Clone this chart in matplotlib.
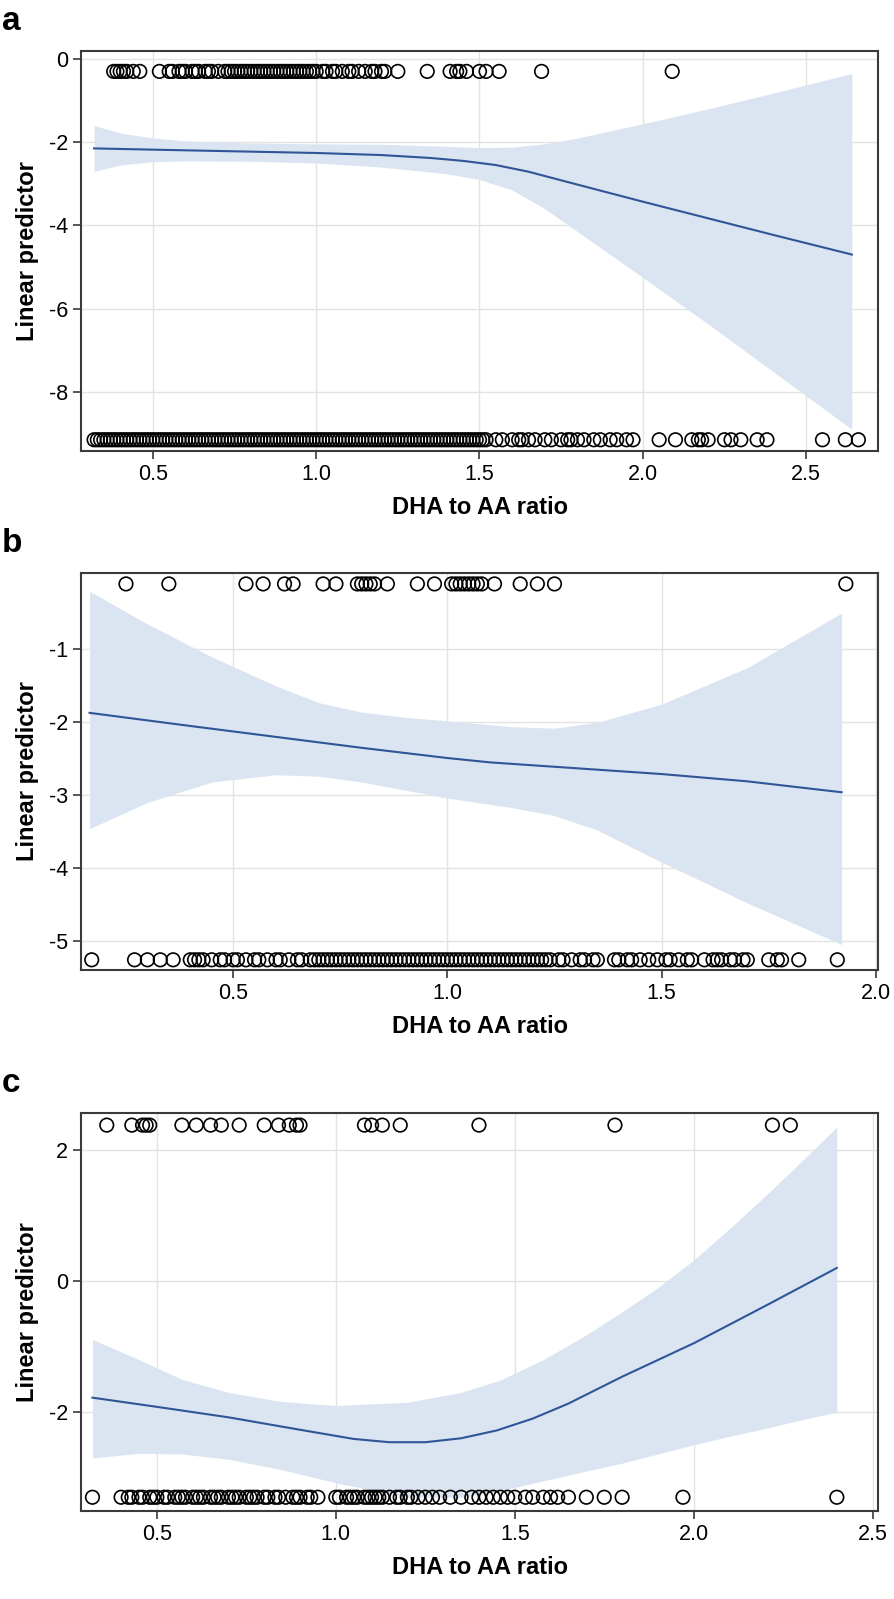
import numpy as np
import matplotlib
matplotlib.use("Agg")
import matplotlib.pyplot as plt

plt.rcParams['font.family'] = ['Liberation Sans', 'DejaVu Sans']

# ---------------- Panel a data ----------------
a_curve_x = [0.32, 0.5, 0.75, 1.0, 1.2, 1.35, 1.45, 1.55, 1.65, 1.8, 2.0, 2.2, 2.4, 2.64]
a_curve_y = [-2.15, -2.18, -2.22, -2.26, -2.31, -2.38, -2.45, -2.55, -2.71, -3.02,
             -3.43, -3.83, -4.23, -4.7]
a_band_x = [0.32, 0.4, 0.5, 0.6, 0.8, 1.0, 1.2, 1.4, 1.5, 1.6, 1.7, 1.8, 2.0, 2.2,
            2.4, 2.64]
a_upper = [-1.6, -1.78, -1.9, -1.97, -2.02, -2.04, -2.05, -2.1, -2.13, -2.12,
           -2.04, -1.9, -1.56, -1.2, -0.82, -0.35]
a_lower = [-2.7, -2.55, -2.47, -2.45, -2.46, -2.5, -2.6, -2.76, -2.9, -3.15,
           -3.6, -4.15, -5.25, -6.37, -7.52, -8.9]
a_top_y = -0.3
a_bot_y = -9.15
a_top_x = [0.38, 0.39, 0.40, 0.41, 0.42, 0.44, 0.46, 0.52, 0.55, 0.56, 0.58, 0.59,
           0.60, 0.62, 0.63, 0.64, 0.66, 0.67, 0.68, 0.70, 0.72, 0.73, 0.74, 0.75,
           0.76, 0.77, 0.78, 0.79, 0.80, 0.81, 0.82, 0.83, 0.84, 0.85, 0.86, 0.87,
           0.88, 0.89, 0.90, 0.91, 0.92, 0.93, 0.94, 0.95, 0.96, 0.97, 0.98, 0.99,
           1.00, 1.02, 1.03, 1.05, 1.06, 1.08, 1.10, 1.11, 1.13, 1.15, 1.17, 1.18,
           1.20, 1.21, 1.25, 1.34, 1.41, 1.43, 1.44, 1.46, 1.50, 1.52, 1.56, 1.69,
           2.09]
a_bot_x = [0.32, 0.33, 0.34, 0.35, 0.36, 0.37, 0.38, 0.39, 0.40, 0.41, 0.42, 0.43,
           0.44, 0.45, 0.46, 0.47, 0.48, 0.49, 0.50, 0.51, 0.52, 0.53, 0.54, 0.55,
           0.56, 0.57, 0.58, 0.59, 0.60, 0.61, 0.62, 0.63, 0.64, 0.65, 0.66, 0.67,
           0.68, 0.69, 0.70, 0.71, 0.72, 0.73, 0.74, 0.75, 0.76, 0.77, 0.78, 0.79,
           0.80, 0.81, 0.82, 0.83, 0.84, 0.85, 0.86, 0.87, 0.88, 0.89, 0.90, 0.91,
           0.92, 0.93, 0.94, 0.95, 0.96, 0.97, 0.98, 0.99, 1.00, 1.01, 1.02, 1.03,
           1.04, 1.05, 1.06, 1.07, 1.08, 1.09, 1.10, 1.11, 1.12, 1.13, 1.14, 1.15,
           1.16, 1.17, 1.18, 1.19, 1.20, 1.21, 1.22, 1.23, 1.24, 1.25, 1.26, 1.27,
           1.28, 1.29, 1.30, 1.31, 1.32, 1.33, 1.34, 1.35, 1.36, 1.37, 1.38, 1.39,
           1.40, 1.41, 1.42, 1.43, 1.44, 1.45, 1.46, 1.47, 1.48, 1.49, 1.50, 1.51,
           1.52, 1.55, 1.57, 1.60, 1.62, 1.63, 1.65, 1.67, 1.70, 1.72, 1.75, 1.77,
           1.78, 1.80, 1.82, 1.85, 1.87, 1.90, 1.92, 1.95, 1.97, 2.05, 2.10, 2.15,
           2.17, 2.18, 2.20, 2.25, 2.27, 2.30, 2.35, 2.38, 2.55, 2.62, 2.66]
a_xticks = [0.5, 1.0, 1.5, 2.0, 2.5]
a_yticks = [0, -2, -4, -6, -8]

# ---------------- Panel b data ----------------
b_curve_x = [0.165, 0.4, 0.6, 0.8, 1.0, 1.1, 1.3, 1.5, 1.7, 1.92]
b_curve_y = [-1.87, -2.05, -2.2, -2.35, -2.49, -2.55, -2.63, -2.71, -2.81, -2.96]
b_band_x = [0.165, 0.3, 0.45, 0.6, 0.7, 0.8, 0.9, 1.0, 1.15, 1.25, 1.35, 1.5, 1.7,
            1.92]
b_upper = [-0.2, -0.65, -1.1, -1.5, -1.73, -1.86, -1.93, -1.98, -2.06, -2.08,
           -2.0, -1.75, -1.25, -0.5]
b_lower = [-3.46, -3.1, -2.82, -2.72, -2.74, -2.82, -2.93, -3.04, -3.17, -3.28,
           -3.48, -3.92, -4.48, -5.05]
b_top_y = -0.1
b_bot_y = -5.26
b_top_x = [0.25, 0.35, 0.53, 0.57, 0.62, 0.64, 0.71, 0.74, 0.79, 0.80, 0.81,
           0.82, 0.83, 0.86, 0.93, 0.97, 1.01, 1.02, 1.03, 1.04, 1.05, 1.06,
           1.07, 1.08, 1.11, 1.17, 1.21, 1.25, 1.93]
b_bot_x = [0.17, 0.27, 0.30, 0.33, 0.36, 0.40, 0.41, 0.42, 0.43, 0.45, 0.47,
           0.48, 0.50, 0.51, 0.53, 0.55, 0.56, 0.58, 0.60, 0.61, 0.63, 0.65,
           0.66, 0.68, 0.69, 0.70, 0.71, 0.72, 0.73, 0.74, 0.75, 0.76, 0.77,
           0.78, 0.79, 0.80, 0.81, 0.82, 0.83, 0.84, 0.85, 0.86, 0.87, 0.88,
           0.89, 0.90, 0.91, 0.92, 0.93, 0.94, 0.95, 0.96, 0.97, 0.98, 0.99,
           1.00, 1.01, 1.02, 1.03, 1.04, 1.05, 1.06, 1.07, 1.08, 1.09, 1.10,
           1.11, 1.12, 1.13, 1.14, 1.15, 1.16, 1.17, 1.18, 1.19, 1.20, 1.21,
           1.22, 1.23, 1.24, 1.26, 1.27, 1.29, 1.31, 1.32, 1.34, 1.35, 1.39,
           1.40, 1.42, 1.43, 1.45, 1.47, 1.49, 1.51, 1.52, 1.54, 1.56, 1.57,
           1.60, 1.62, 1.63, 1.64, 1.66, 1.67, 1.69, 1.70, 1.75, 1.77, 1.78,
           1.82, 1.91]
b_xticks = [0.5, 1.0, 1.5, 2.0]
b_yticks = [-1, -2, -3, -4, -5]

# ---------------- Panel c data ----------------
c_curve_x = [0.32, 0.5, 0.7, 0.9, 1.05, 1.15, 1.25, 1.35, 1.45, 1.55, 1.65, 1.8,
             2.0, 2.2, 2.4]
c_curve_y = [-1.78, -1.92, -2.08, -2.27, -2.41, -2.46, -2.46, -2.4, -2.28, -2.1,
             -1.87, -1.46, -0.95, -0.38, 0.2]
c_band_x = [0.32, 0.45, 0.57, 0.7, 0.85, 1.0, 1.2, 1.35, 1.46, 1.58, 1.7, 1.8,
            1.9, 2.0, 2.1, 2.2, 2.3, 2.4]
c_upper = [-0.89, -1.2, -1.5, -1.7, -1.84, -1.9, -1.85, -1.7, -1.51, -1.2,
           -0.82, -0.47, -0.1, 0.32, 0.8, 1.3, 1.82, 2.35]
c_lower = [-2.7, -2.63, -2.64, -2.72, -2.88, -3.08, -3.3, -3.3, -3.2, -3.05,
           -2.9, -2.78, -2.64, -2.5, -2.37, -2.25, -2.12, -2.0]
c_top_y = 2.38
c_bot_y = -3.3
c_top_x = [0.36, 0.43, 0.46, 0.47, 0.48, 0.57, 0.61, 0.65, 0.68, 0.73, 0.80,
           0.84, 0.87, 0.89, 0.90, 1.08, 1.10, 1.13, 1.18, 1.40, 1.78, 2.22, 2.27]
c_bot_x = [0.32, 0.40, 0.42, 0.43, 0.45, 0.46, 0.48, 0.49, 0.50, 0.52, 0.53,
           0.55, 0.56, 0.57, 0.58, 0.60, 0.61, 0.62, 0.63, 0.65, 0.66, 0.67,
           0.68, 0.70, 0.71, 0.72, 0.73, 0.75, 0.76, 0.77, 0.78, 0.80, 0.81,
           0.83, 0.84, 0.86, 0.88, 0.89, 0.90, 0.92, 0.93, 0.95, 1.00, 1.01,
           1.03, 1.04, 1.05, 1.06, 1.08, 1.09, 1.10, 1.11, 1.12, 1.13, 1.15,
           1.17, 1.18, 1.20, 1.21, 1.23, 1.25, 1.27, 1.29, 1.32, 1.35, 1.38,
           1.40, 1.42, 1.44, 1.46, 1.48, 1.50, 1.53, 1.55, 1.58, 1.60, 1.62,
           1.65, 1.70, 1.75, 1.80, 1.97, 2.40]
c_xticks = [0.5, 1.0, 1.5, 2.0, 2.5]
c_yticks = [2, 0, -2]

# ---------------- Figure ----------------
W, H = 894, 1599
fig = plt.figure(figsize=(W / 100, H / 100), dpi=100)

def rect(l, t, r, b):
    return [l / W, 1 - b / H, (r - l) / W, (b - t) / H]

line_col = '#2f5597'
band_col = '#dbe5f1'
grid_col = '#e3e3e3'
spine_col = '#3a3a3a'

def panel(px, label, cx, cy, bxs, up, lo, tx, ty, bx, by, xlim, ylim, xticks, yticks):
    ax = fig.add_axes(rect(*px))
    ax.set_facecolor('white')
    ax.fill_between(bxs, lo, up, color=band_col, lw=0, zorder=1)
    ax.plot(cx, cy, color=line_col, lw=1.5, zorder=2)
    ax.scatter(tx, [ty] * len(tx), s=95, facecolors='none', edgecolors='black',
               linewidths=1.2, zorder=3, clip_on=False)
    ax.scatter(bx, [by] * len(bx), s=95, facecolors='none', edgecolors='black',
               linewidths=1.2, zorder=3, clip_on=False)
    ax.set_xlim(*xlim)
    ax.set_ylim(*ylim)
    ax.set_xticks(xticks)
    ax.set_yticks(yticks)
    ax.set_xticklabels([f'{v:.1f}' for v in xticks])
    ax.set_yticklabels([f'{v:g}' for v in yticks])
    ax.grid(True, color=grid_col, lw=1.0, zorder=0)
    ax.set_axisbelow(True)
    ax.tick_params(labelsize=15.5, length=5.5, width=1.2, color=spine_col, pad=4)
    for s in ax.spines.values():
        s.set_color(spine_col)
        s.set_linewidth(1.5)
    ax.set_xlabel('DHA to AA ratio', fontsize=17, fontweight='bold', labelpad=8)
    ax.set_ylabel('Linear predictor', fontsize=17, fontweight='bold', labelpad=7)
    fig.text(2 / W, 1 - (px[1] - 30) / H, label, fontsize=24, fontweight='bold',
             va='center', ha='left')
    return ax

panel((81, 51, 878, 451), 'a', a_curve_x, a_curve_y, a_band_x, a_upper, a_lower,
      a_top_x, a_top_y, a_bot_x, a_bot_y, (0.28, 2.72), (-9.42, 0.19),
      a_xticks, a_yticks)
panel((81, 573, 878, 970), 'b', b_curve_x, b_curve_y, b_band_x, b_upper, b_lower,
      b_top_x, b_top_y, b_bot_x, b_bot_y, (0.145, 2.005), (-5.40, 0.05),
      b_xticks, b_yticks)
panel((81, 1113, 878, 1511), 'c', c_curve_x, c_curve_y, c_band_x, c_upper, c_lower,
      c_top_x, c_top_y, c_bot_x, c_bot_y, (0.288, 2.515), (-3.51, 2.565),
      c_xticks, c_yticks)

fig.savefig('out.png', dpi=100)
